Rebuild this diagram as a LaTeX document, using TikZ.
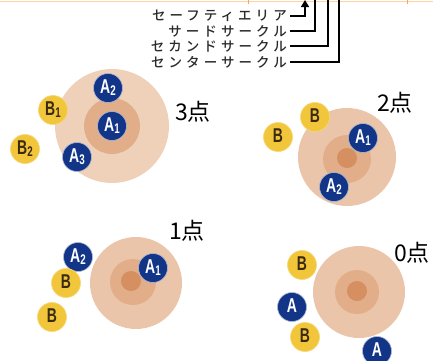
\documentclass[tikz,border=0pt]{standalone}
\usepackage{fontspec}
\usetikzlibrary{arrows.meta}
\newfontfamily\jp{Noto Sans CJK JP}
\newfontfamily\jplab[LetterSpace=30]{Noto Sans CJK JP Medium}
\newfontfamily\ballfont{Liberation Sans}
\definecolor{navy}{HTML}{123587}
\definecolor{gold}{HTML}{F2C63A}
\definecolor{ballink}{HTML}{3A2A12}
\definecolor{ringA}{HTML}{EBC5A9}
\definecolor{ringB}{HTML}{E2AE8A}
\definecolor{ringC}{HTML}{D58F60}
\definecolor{labgray}{HTML}{2A2A2A}
\newcommand{\balltxt}[2]{\scalebox{0.7}[1]{\ballfont\bfseries\fontsize{20}{20}\selectfont #1\raisebox{-2pt}{\fontsize{14}{14}\selectfont #2}}}
\tikzset{
  ballA/.style={circle, fill=navy, draw=navy!35!white, line width=0.6pt, minimum size=29pt, inner sep=0pt, text=white},
  ballB/.style={circle, fill=gold, draw=gold!70!white, line width=0.6pt, minimum size=29pt, inner sep=0pt, text=ballink},
  outerc/.style={circle, fill=ringA, inner sep=0pt},
  midc/.style={circle, fill=ringB, inner sep=0pt},
  cenc/.style={circle, fill=ringC, inner sep=0pt},
  score/.style={font=\jp\fontsize{23}{23}\selectfont, inner sep=0pt},
  lab/.style={font=\jplab\fontsize{13.5}{13.5}\selectfont, text=labgray, anchor=east, inner sep=0pt},
  conn/.style={line width=1.6pt, black},
}
\begin{document}
\begin{tikzpicture}[x=1pt,y=-1pt]
\useasboundingbox (0,0) rectangle (433,360);
% top border
\draw[orange!35, line width=0.8pt] (0,1) -- (433,1);
\draw[orange!70, line width=0.8pt] (248,0) -- (248,4);
\draw[orange!70, line width=0.8pt] (407,0) -- (407,4);
% legend labels
\node[lab] (l1) at (287,16) {セーフティエリア};
\node[lab] (l2) at (287,31) {サードサークル};
\node[lab] (l3) at (287,46) {セカンドサークル};
\node[lab] (l4) at (287,62) {センターサークル};
\coordinate (t1) at (305,0);
\coordinate (t2) at (315,0);
\coordinate (t3) at (328,0);
\coordinate (t4) at (339,0);
\draw[conn, -{Triangle[length=7pt,width=8pt]}] ([xshift=3pt]l1.east) -| (t1);
\draw[conn] ([xshift=3pt]l2.east) -| (t2);
\draw[conn] ([xshift=3pt]l3.east) -| (t3);
\draw[conn] ([xshift=3pt]l4.east) -| (t4);
% diagram 1: 3 points
\node[outerc, minimum size=114pt, fill=ringA!80!white] (o1) at (112,126) {};
\node[midc, minimum size=56pt] (m1) at (112,126) {};
\node[cenc, minimum size=20pt] (c1) at (112,126) {};
\node[ballA] (a2x) at (108,88) {\balltxt{A}{2}};
\node[ballA] (a1x) at (112,126) {\balltxt{A}{1}};
\node[ballA] (a3x) at (77,157) {\balltxt{A}{3}};
\node[ballB] (b1x) at (53,110) {\balltxt{B}{1}};
\node[ballB] (b2x) at (25,149) {\balltxt{B}{2}};
\node[score] (s3) at (193,112) {3点};
% diagram 2: 2 points
\node[outerc, minimum size=98pt] (o2) at (347,157) {};
\node[midc, minimum size=48pt] (m2) at (347,159) {};
\node[cenc, minimum size=20pt] (c2) at (347,158) {};
\node[ballA] (a1y) at (363,138) {\balltxt{A}{1}};
\node[ballA] (a2y) at (334,187) {\balltxt{A}{2}};
\node[ballB] (b1y) at (315,117) {\balltxt{B}{}};
\node[ballB] (b2y) at (278,137) {\balltxt{B}{}};
\node[score] (s2) at (395,103) {2点};
% diagram 3: 1 point
\node[outerc, minimum size=92pt] (o3) at (136,283) {};
\node[midc, minimum size=46pt] (m3) at (133,282) {};
\node[cenc, minimum size=20pt] (c3) at (131,281) {};
\node[ballA] (a1z) at (153,268) {\balltxt{A}{1}};
\node[ballA] (a2z) at (78,257) {\balltxt{A}{2}};
\node[ballB] (b1z) at (66,283) {\balltxt{B}{}};
\node[ballB] (b2z) at (52,317) {\balltxt{B}{}};
\node[score] (s1) at (187,231) {1点};
% diagram 4: 0 points
\node[outerc, minimum size=92pt] (o4) at (359,292) {};
\node[midc, minimum size=44pt] (m4) at (357,292) {};
\node[cenc, minimum size=20pt] (c4) at (357,291) {};
\node[ballB] (b1w) at (302,265) {\balltxt{B}{}};
\node[ballA] (a1w) at (292,307) {\balltxt{A}{}};
\node[ballB] (b2w) at (305,337) {\balltxt{B}{}};
\node[ballA] (a2w) at (377,351) {\balltxt{A}{}};
\node[score] (s0) at (412,253) {0点};
\end{tikzpicture}
\end{document}
